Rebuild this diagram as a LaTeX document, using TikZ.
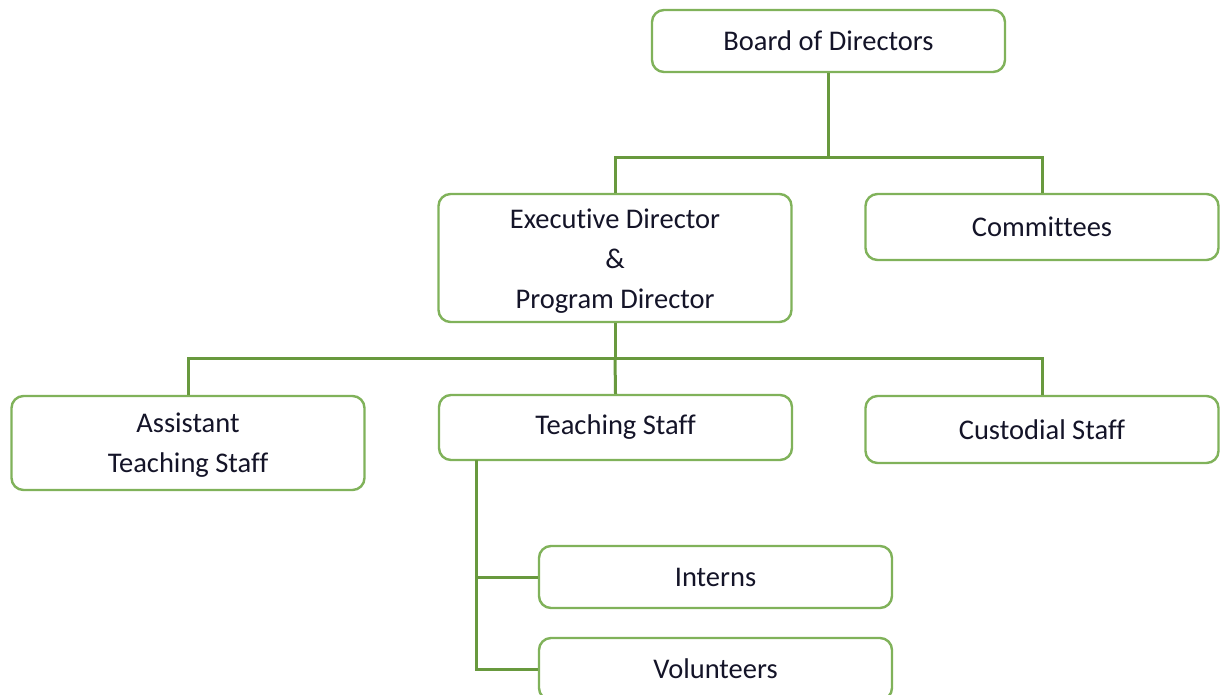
\documentclass[tikz,border=0pt]{standalone}
\usepackage{fontspec}
\setmainfont{Carlito}[Ligatures=NoCommon]
\definecolor{linegreen}{RGB}{104,153,62}
\definecolor{boxgreen}{RGB}{128,178,90}
\definecolor{txt}{RGB}{20,20,40}
\begin{document}
\begin{tikzpicture}[x=1pt,y=-1pt,
  orgbox/.style={draw=boxgreen,line width=2.4pt,rounded corners=12pt,fill=white,
    minimum width=353pt,inner sep=0pt,align=center,text=txt,
    font=\fontsize{28.5}{40}\selectfont},
  lbl/.style={inner sep=0pt,align=center,text=txt,font=\fontsize{28.5}{40}\selectfont},
  link/.style={draw=linegreen,line width=3pt}]
\useasboundingbox (0,0) rectangle (1222,694);
\begin{scope}
\clip (0,0) rectangle (1222,694);
\coordinate (j1) at (828.5,157);
\coordinate (j2) at (615,358);
\node[orgbox,minimum height=62pt] (board) at (828.5,41) {Board of Directors};
\node[orgbox,minimum height=128pt,
  label={[lbl,yshift=-3pt]center:{Executive Director\\\&\\Program Director}}] (exec) at (615,258) {};
\node[orgbox,minimum height=66pt] (comm) at (1042,227) {Committees};
\node[orgbox,minimum height=94pt,
  label={[lbl,yshift=-2pt]center:{Assistant\\Teaching Staff}}] (asst) at (188,443) {};
\node[orgbox,minimum height=65pt] (teach) at (615.5,427.5) {Teaching Staff};
\node[orgbox,minimum height=67pt] (cust) at (1042,429.5) {Custodial Staff};
\node[orgbox,minimum height=62pt] (intern) at (715.5,577) {Interns};
\node[orgbox,minimum height=62pt] (vol) at (715.5,669) {Volunteers};
\coordinate (tb) at (476,460);
\draw[link] (board.south) -- (j1);
\draw[link] (exec.north) |- (j1) -| (comm.north);
\draw[link] (exec.south) -- (j2);
\draw[link] (asst.north) |- (j2) -| (cust.north);
\draw[link] (j2) -- (teach.north);
\draw[link] (tb) |- (intern.west);
\draw[link] (tb) |- (vol.west);
\end{scope}
\end{tikzpicture}
\end{document}
